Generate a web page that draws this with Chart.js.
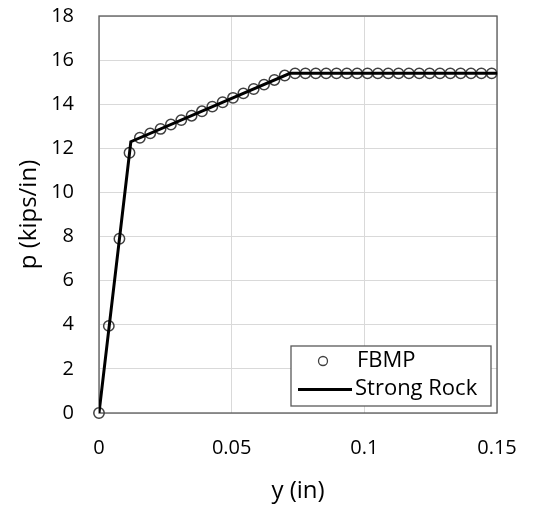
<!DOCTYPE html>
<html>
<head>
<meta charset="utf-8">
<script src="https://cdn.jsdelivr.net/npm/chart.js@4/dist/chart.umd.min.js"></script>
<style>
  html, body { margin: 0; padding: 0; background: #ffffff; }
  #wrap { width: 535px; height: 508px; position: relative; }
</style>
</head>
<body>
<div id="wrap">
  <canvas id="pyChart" width="535" height="508"></canvas>
</div>

<script>
  // FBMP points (y in inches, p in kips/in)
  const fbmpY = [
    0, 0.0037, 0.0077, 0.0115,
    0.0154, 0.0193, 0.0232, 0.0271, 0.0310, 0.0349, 0.0388, 0.0427,
    0.0466, 0.0505, 0.0544, 0.0583, 0.0622, 0.0661, 0.0700,
    0.0739, 0.0778, 0.0817, 0.0856, 0.0895, 0.0934, 0.0973, 0.1012,
    0.1051, 0.1090, 0.1129, 0.1168, 0.1207, 0.1246, 0.1285, 0.1324,
    0.1363, 0.1402, 0.1441, 0.1480,
  ];
  const fbmpP = [
    0, 3.95, 7.9, 11.8,
    12.48, 12.68, 12.88, 13.08, 13.28, 13.48, 13.68, 13.89,
    14.09, 14.29, 14.49, 14.69, 14.89, 15.1, 15.3,
    15.4, 15.4, 15.4, 15.4, 15.4, 15.4, 15.4, 15.4,
    15.4, 15.4, 15.4, 15.4, 15.4, 15.4, 15.4, 15.4,
    15.4, 15.4, 15.4, 15.4,
  ];

  // Strong rock p-y curve (trilinear)
  const rockY = [0, 0.012, 0.072, 0.15];
  const rockP = [0, 12.3, 15.4, 15.4];

  const seriesNames = ["FBMP", "Strong Rock"];
  const xTicks = [0, 0.05, 0.1, 0.15];
  const yTicks = [0, 2, 4, 6, 8, 10, 12, 14, 16, 18];

  const fontFamily = "'Open Sans', 'Noto Sans', sans-serif";
  const gridColor = "#d9d9d9";
  const frameColor = "#595959";

  // keep the plot area fixed: no extra padding for overhanging tick labels
  function noScalePadding(axis) {
    axis.paddingTop = 0;
    axis.paddingBottom = 0;
    axis.paddingLeft = 0;
    axis.paddingRight = 0;
  }

  // frame round the plot area
  const framePlugin = {
    id: "frame",
    beforeDatasetsDraw(chart) {
      const { ctx, chartArea: a } = chart;
      ctx.save();
      ctx.strokeStyle = frameColor;
      ctx.lineWidth = 1.3;
      ctx.strokeRect(a.left, a.top, a.right - a.left, a.bottom - a.top);
      ctx.restore();
    },
  };

  // legend box inside the plot, bottom right
  const boxLegend = {
    id: "boxLegend",
    afterDraw(chart) {
      const { ctx } = chart;
      const ds = chart.data.datasets;
      const box = { x: 291, y: 346, w: 200, h: 60 };
      ctx.save();
      ctx.fillStyle = "#ffffff";
      ctx.fillRect(box.x, box.y, box.w, box.h);
      ctx.strokeStyle = frameColor;
      ctx.lineWidth = 1.3;
      ctx.strokeRect(box.x, box.y, box.w, box.h);

      ctx.font = "22px " + fontFamily;
      ctx.fillStyle = "#000000";
      ctx.textBaseline = "middle";
      ctx.textAlign = "left";

      // FBMP marker
      ctx.beginPath();
      ctx.arc(323, 361, 4.5, 0, Math.PI * 2);
      ctx.strokeStyle = ds[0].borderColor;
      ctx.lineWidth = 1.3;
      ctx.stroke();
      ctx.fillText(ds[0].label, 357, 361);

      // Strong Rock line
      ctx.beginPath();
      ctx.moveTo(298, 389.5);
      ctx.lineTo(352, 389.5);
      ctx.strokeStyle = ds[1].borderColor;
      ctx.lineWidth = 3;
      ctx.stroke();
      ctx.fillText(ds[1].label, 355, 389);
      ctx.restore();
    },
  };

  const ctx = document.getElementById("pyChart").getContext("2d");
  const chart = new Chart(ctx, {
    type: "scatter",
    data: {
      datasets: [
        {
          label: seriesNames[0],
          data: fbmpY.map((y, i) => ({ x: y, y: fbmpP[i] })),
          pointStyle: "circle",
          pointRadius: 5.2,
          pointBorderWidth: 1.5,
          borderColor: "#404040",
          backgroundColor: "rgba(0,0,0,0)",
          showLine: false,
          clip: false,
          order: 1,
        },
        {
          label: seriesNames[1],
          data: rockY.map((y, i) => ({ x: y, y: rockP[i] })),
          borderColor: "#000000",
          backgroundColor: "#000000",
          borderWidth: 3,
          pointRadius: 0,
          showLine: true,
          tension: 0,
          order: 0,
        },
      ],
    },
    options: {
      responsive: false,
      animation: false,
      events: [],
      layout: { padding: { top: 16, right: 38, left: 0, bottom: 0 } },
      plugins: {
        legend: { display: false },
        tooltip: { enabled: false },
      },
      scales: {
        x: {
          type: "linear",
          min: xTicks[0],
          max: xTicks[xTicks.length - 1],
          afterBuildTicks: (axis) => {
            axis.ticks = xTicks.map((v) => ({ value: v }));
          },
          afterFit: (axis) => {
            axis.height = 95;
            noScalePadding(axis);
          },
          ticks: {
            padding: 23,
            color: "#000000",
            font: { family: fontFamily, size: 20 },
            callback: (v) => String(+Number(v).toFixed(3)),
          },
          grid: { color: gridColor, lineWidth: 1, drawTicks: false },
          border: { display: false },
          title: {
            display: true,
            text: "y (in)",
            color: "#000000",
            font: { family: fontFamily, size: 24 },
            padding: { top: 0, bottom: 2 },
          },
        },
        y: {
          type: "linear",
          min: yTicks[0],
          max: yTicks[yTicks.length - 1],
          afterBuildTicks: (axis) => {
            axis.ticks = yTicks.map((v) => ({ value: v }));
          },
          afterFit: (axis) => {
            axis.width = 99;
            noScalePadding(axis);
          },
          ticks: {
            padding: 25,
            color: "#000000",
            font: { family: fontFamily, size: 20 },
          },
          grid: { color: gridColor, lineWidth: 1, drawTicks: false },
          border: { display: false },
          title: {
            display: true,
            text: "p (kips/in)",
            color: "#000000",
            font: { family: fontFamily, size: 24 },
            padding: { top: 15, bottom: 0 },
          },
        },
      },
    },
    plugins: [framePlugin, boxLegend],
  });
</script>
</body>
</html>
